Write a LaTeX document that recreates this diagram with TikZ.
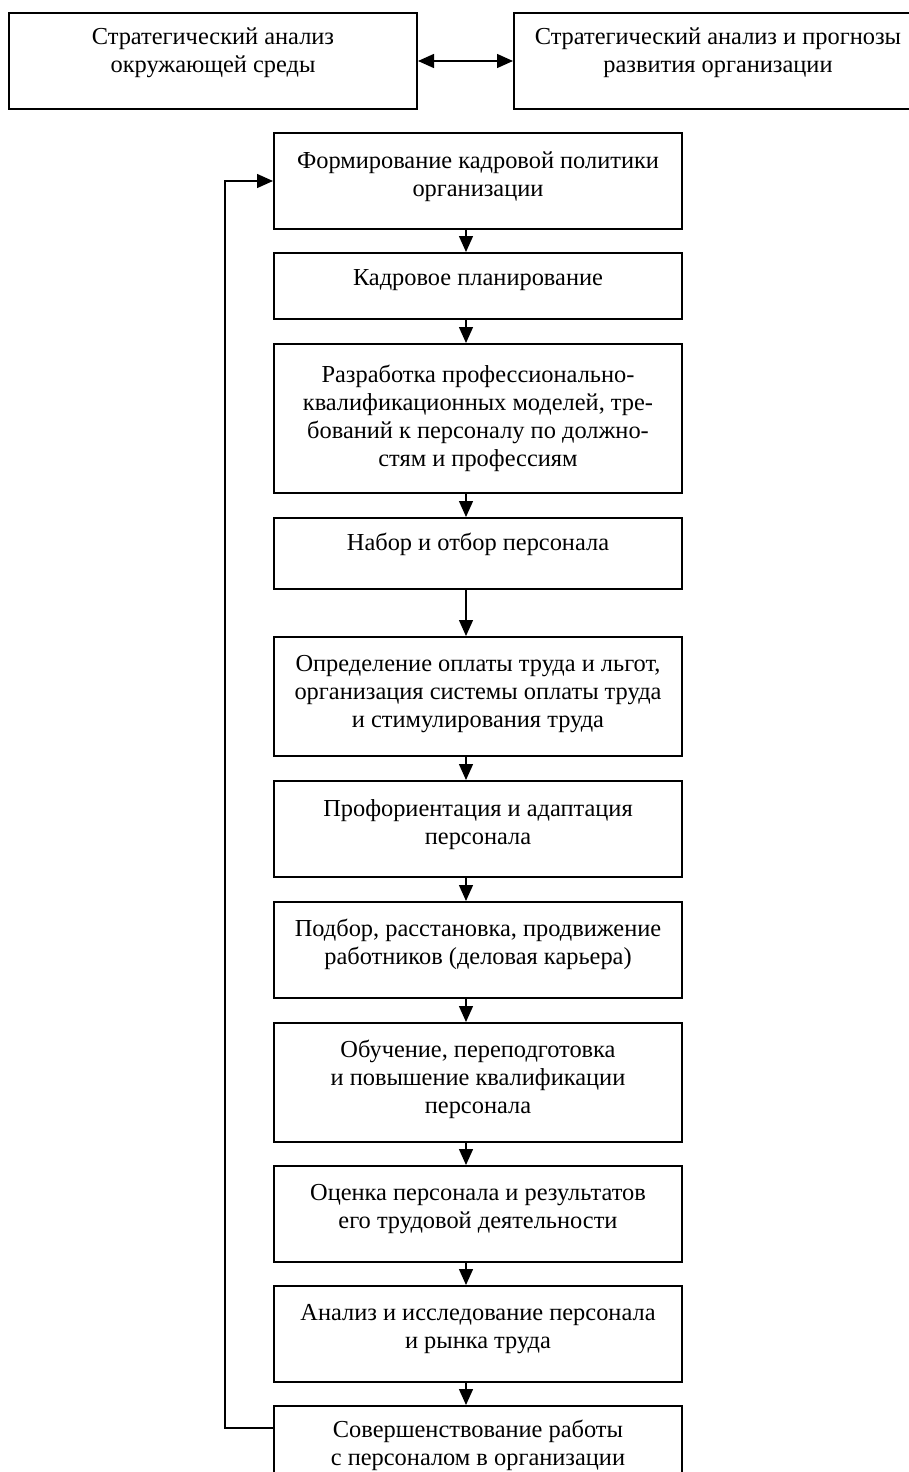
\documentclass[tikz,border=0pt]{standalone}
\usepackage{fontspec}
\setmainfont{Liberation Serif}
\usetikzlibrary{arrows.meta}
\newcommand{\stagetext}[3][7.5pt]{\parbox[c][#2][t]{204pt}{\centering\vspace{#1}\strut #3}}

\begin{document}
\begin{tikzpicture}[x = 1pt, y = -1pt, line width = 1pt,
    > = {Triangle[width = 7pt, length = 8pt]},
    stage/.style = {draw, anchor = north west, inner sep = 0pt,
        font = \fontsize{12.2pt}{14pt}\selectfont},
    flow/.style = {line width = .7pt}]
\clip (0,0) rectangle (454.5,736);
\draw (4,6) node[stage](env){\stagetext[6pt]{48pt}{Стратегический анализ\\окружающей среды}}
    (256.5,6) node[stage](org){\stagetext[6pt]{48pt}{Стратегический анализ и прогнозы\\развития организации}}
    (136.5,66) node[stage](s1){\stagetext[8pt]{48pt}{Формирование кадровой политики\\организации}}
    (136.5,126) node[stage](s2){\stagetext[6.5pt]{33pt}{Кадровое планирование}}
    (136.5,171.5) node[stage](s3){\stagetext[9.5pt]{74.5pt}{Разработка профессионально-\\квалификационных моделей, тре-\\бований к персоналу по должно-\\стям и профессиям}}
    (136.5,258.5) node[stage](s4){\stagetext[6.5pt]{35.5pt}{Набор и отбор персонала}}
    (136.5,318) node[stage](s5){\stagetext{59.5pt}{Определение оплаты труда и льгот,\\организация системы оплаты труда\\и стимулирования труда}}
    (136.5,390) node[stage](s6){\stagetext[8pt]{48pt}{Профориентация и адаптация\\персонала}}
    (136.5,450.5) node[stage](s7){\stagetext{48pt}{Подбор, расстановка, продвижение\\работников (деловая карьера)}}
    (136.5,511) node[stage](s8){\stagetext{59.5pt}{Обучение, переподготовка\\и повышение квалификации\\персонала}}
    (136.5,582.5) node[stage](s9){\stagetext{48pt}{Оценка персонала и результатов\\его трудовой деятельности}}
    (136.5,642.5) node[stage](s10){\stagetext{48pt}{Анализ и исследование персонала\\и рынка труда}}
    (136.5,702.5) node[stage](s11){\stagetext[6pt]{48pt}{Совершенствование работы\\с персоналом в организации}};
    % links between the stages
    \draw [flow, <->] (env) -- (org);
    \draw [flow, ->] ([xshift = -6pt]s1.south) -- ([xshift = -6pt]s2.north);
    \draw [flow, ->] ([xshift = -6pt]s2.south) -- ([xshift = -6pt]s3.north);
    \draw [flow, ->] ([xshift = -6pt]s3.south) -- ([xshift = -6pt]s4.north);
    \draw [flow, ->] ([xshift = -6pt]s4.south) -- ([xshift = -6pt]s5.north);
    \draw [flow, ->] ([xshift = -6pt]s5.south) -- ([xshift = -6pt]s6.north);
    \draw [flow, ->] ([xshift = -6pt]s6.south) -- ([xshift = -6pt]s7.north);
    \draw [flow, ->] ([xshift = -6pt]s7.south) -- ([xshift = -6pt]s8.north);
    \draw [flow, ->] ([xshift = -6pt]s8.south) -- ([xshift = -6pt]s9.north);
    \draw [flow, ->] ([xshift = -6pt]s9.south) -- ([xshift = -6pt]s10.north);
    \draw [flow, ->] ([xshift = -6pt]s10.south) -- ([xshift = -6pt]s11.north);
    % feedback loop
    \draw [flow, ->] ([yshift = -11.5pt]s11.north west) -- ++(-24,0) |- (s1.west);
\end{tikzpicture}
\end{document}
